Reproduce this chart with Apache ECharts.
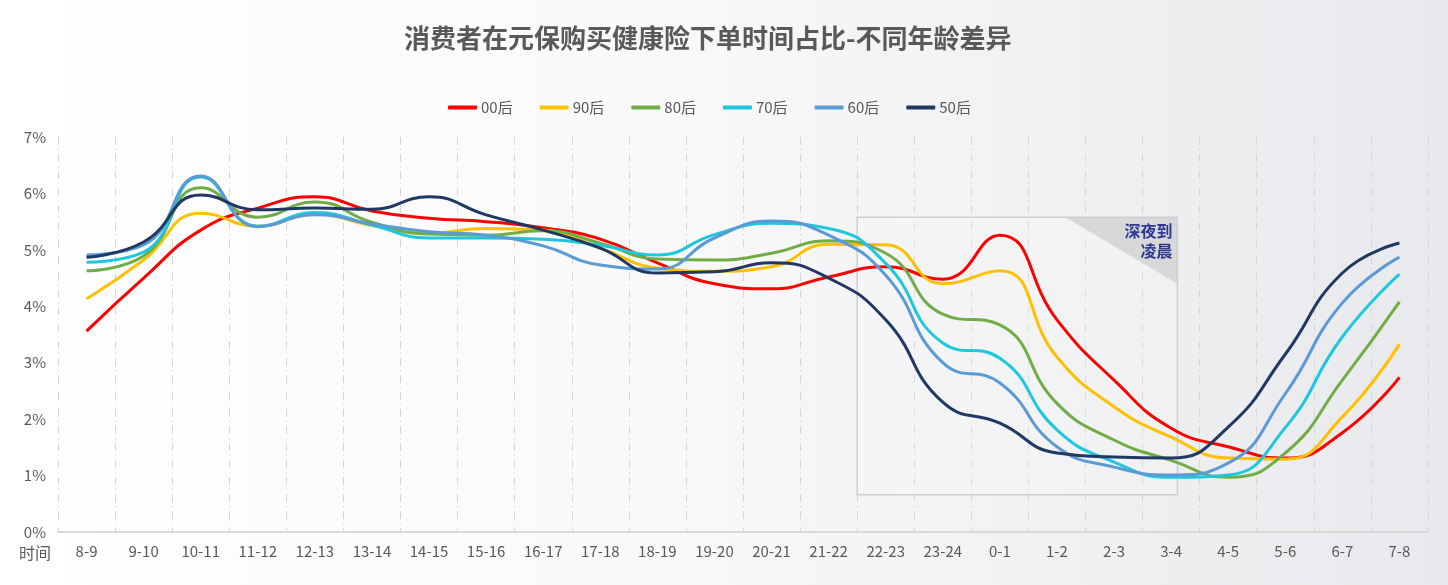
<!DOCTYPE html>
<html>
<head>
<meta charset="utf-8">
<script src="https://cdn.jsdelivr.net/npm/echarts@6/dist/echarts.min.js"></script>
<style>
html,body{margin:0;padding:0;}
#c{width:1448px;height:585px;}
</style>
</head>
<body>
<div id="c"></div>
<script>
const categories = ['8-9','9-10','10-11','11-12','12-13','13-14','14-15','15-16','16-17','17-18','18-19','19-20','20-21','21-22','22-23','23-24','0-1','1-2','2-3','3-4','4-5','5-6','6-7','7-8'];
const seriesNames = ['00后','90后','80后','70后','60后','50后'];
const s00 = [3.56,4.50,5.35,5.74,5.94,5.69,5.56,5.50,5.39,5.19,4.77,4.40,4.31,4.52,4.70,4.48,5.26,3.76,2.69,1.84,1.51,1.31,1.76,2.74];
const s90 = [4.13,4.82,5.65,5.42,5.63,5.43,5.30,5.38,5.35,5.03,4.68,4.62,4.70,5.10,5.09,4.40,4.63,3.10,2.22,1.68,1.31,1.29,2.04,3.33];
const s80 = [4.63,4.89,6.10,5.58,5.85,5.49,5.28,5.26,5.34,5.12,4.84,4.82,4.94,5.16,4.94,3.86,3.67,2.28,1.63,1.27,0.97,1.40,2.69,4.08];
const s70 = [4.78,4.96,6.29,5.42,5.66,5.44,5.21,5.21,5.19,5.08,4.91,5.27,5.47,5.38,4.76,3.35,3.08,1.81,1.24,0.97,1.01,1.85,3.46,4.57];
const s60 = [4.91,5.09,6.31,5.41,5.62,5.46,5.32,5.26,5.07,4.73,4.66,5.21,5.51,5.26,4.55,3.00,2.64,1.51,1.15,1.01,1.22,2.45,4.06,4.87];
const s50 = [4.87,5.14,5.97,5.71,5.74,5.72,5.94,5.62,5.35,5.03,4.59,4.61,4.77,4.50,3.76,2.30,1.93,1.40,1.33,1.31,1.86,3.15,4.59,5.12];
const yTicks = [0,1,2,3,4,5,6,7];
const colors = ['#FF0000','#FFC000','#70AD47','#1EC6DE','#5B9BD5','#1F3864'];
const allData = [s00,s90,s80,s70,s60,s50];
// annotated region: 22-23 .. 3-4, value range
const boxStartCat = '22-23';
const boxEndCat = '3-4';
const boxTop = 5.58;
const boxBottom = 0.66;
const boxLabel = '深夜到\n凌晨';

const chart = echarts.init(document.getElementById('c'));
const font = '"Noto Sans CJK SC","Noto Sans",sans-serif';
const txt = '#595959';

const option = {
  backgroundColor: {
    type: 'linear', x: 0, y: 0, x2: 1, y2: 0,
    colorStops: [
      {offset: 0, color: '#ffffff'},
      {offset: 0.45, color: '#f9f9fa'},
      {offset: 1, color: '#e8e9ec'}
    ]
  },
  title: {
    text: '消费者在元保购买健康险下单时间占比-不同年龄差异',
    left: 399,
    top: 20,
    textStyle: {fontFamily: font, fontSize: 26, fontWeight: 'bold', color: txt}
  },
  legend: {
    data: seriesNames,
    top: 95,
    left: 443,
    itemWidth: 29,
    itemHeight: 4,
    itemGap: 27,
    icon: 'roundRect',
    textStyle: {fontFamily: font, fontSize: 15, color: txt, padding: [0,0,0,-1]}
  },
  grid: {left: 58, right: 20, top: 137, bottom: 53, containLabel: false},
  xAxis: {
    type: 'category',
    data: categories,
    boundaryGap: true,
    axisLine: {show: true, lineStyle: {color: '#d9d9d9', width: 2}},
    axisTick: {show: false},
    axisLabel: {interval: 0, fontFamily: font, fontSize: 15, color: txt, margin: 12},
    splitLine: {show: true, interval: 0, lineStyle: {color: '#d6d6d6', width: 1, type: [8,4,1,4]}}
  },
  yAxis: {
    type: 'value',
    min: yTicks[0],
    max: yTicks[yTicks.length-1],
    interval: 1,
    axisLine: {show: false},
    axisTick: {show: false},
    splitLine: {show: false},
    axisLabel: {fontFamily: font, fontSize: 15, color: txt, margin: 12, formatter: '{value}%'}
  },
  series: seriesNames.map((n, i) => ({
    name: n,
    type: 'line',
    data: allData[i],
    smooth: 0.5,
    showSymbol: false,
    symbol: 'none',
    color: colors[i],
    lineStyle: {width: 3, color: colors[i]},
    z: 2 + i
  })),
  animation: false
};
chart.setOption(option);

const p1 = chart.convertToPixel({gridIndex: 0}, [boxStartCat, boxTop]);
const p0 = chart.convertToPixel({gridIndex: 0}, [categories[categories.indexOf(boxStartCat)-1], boxTop]);
const p2 = chart.convertToPixel({gridIndex: 0}, [boxEndCat, boxBottom]);
const step = p1[0] - p0[0];
const L = (p0[0] + p1[0]) / 2;
const R = p2[0] + step * 0.11;
const T = p1[1];
const B = p2[1];
const triW = (R - L) * 0.35;
const triH = (B - T) * 0.24;

chart.setOption({
  graphic: [
    {
      type: 'polygon',
      shape: {points: [[R - triW, T], [R, T], [R, T + triH]]},
      style: {fill: '#d2d1d3'},
      z: 1
    },
    {
      type: 'rect',
      shape: {x: L, y: T, width: R - L, height: B - T},
      style: {fill: 'rgba(255,255,255,0.15)', stroke: '#d0d0d0', lineWidth: 1.5},
      z: 1
    },
    {
      type: 'text',
      x: R - 5, y: T + 4,
      style: {text: boxLabel, fill: '#2B3990', font: 'bold 16px ' + font, textAlign: 'right', lineHeight: 20},
      z: 10
    },
    {
      type: 'text',
      left: 19, top: 545,
      style: {text: '时间', fill: txt, font: '16px ' + font}
    }
  ]
});
</script>
</body>
</html>
